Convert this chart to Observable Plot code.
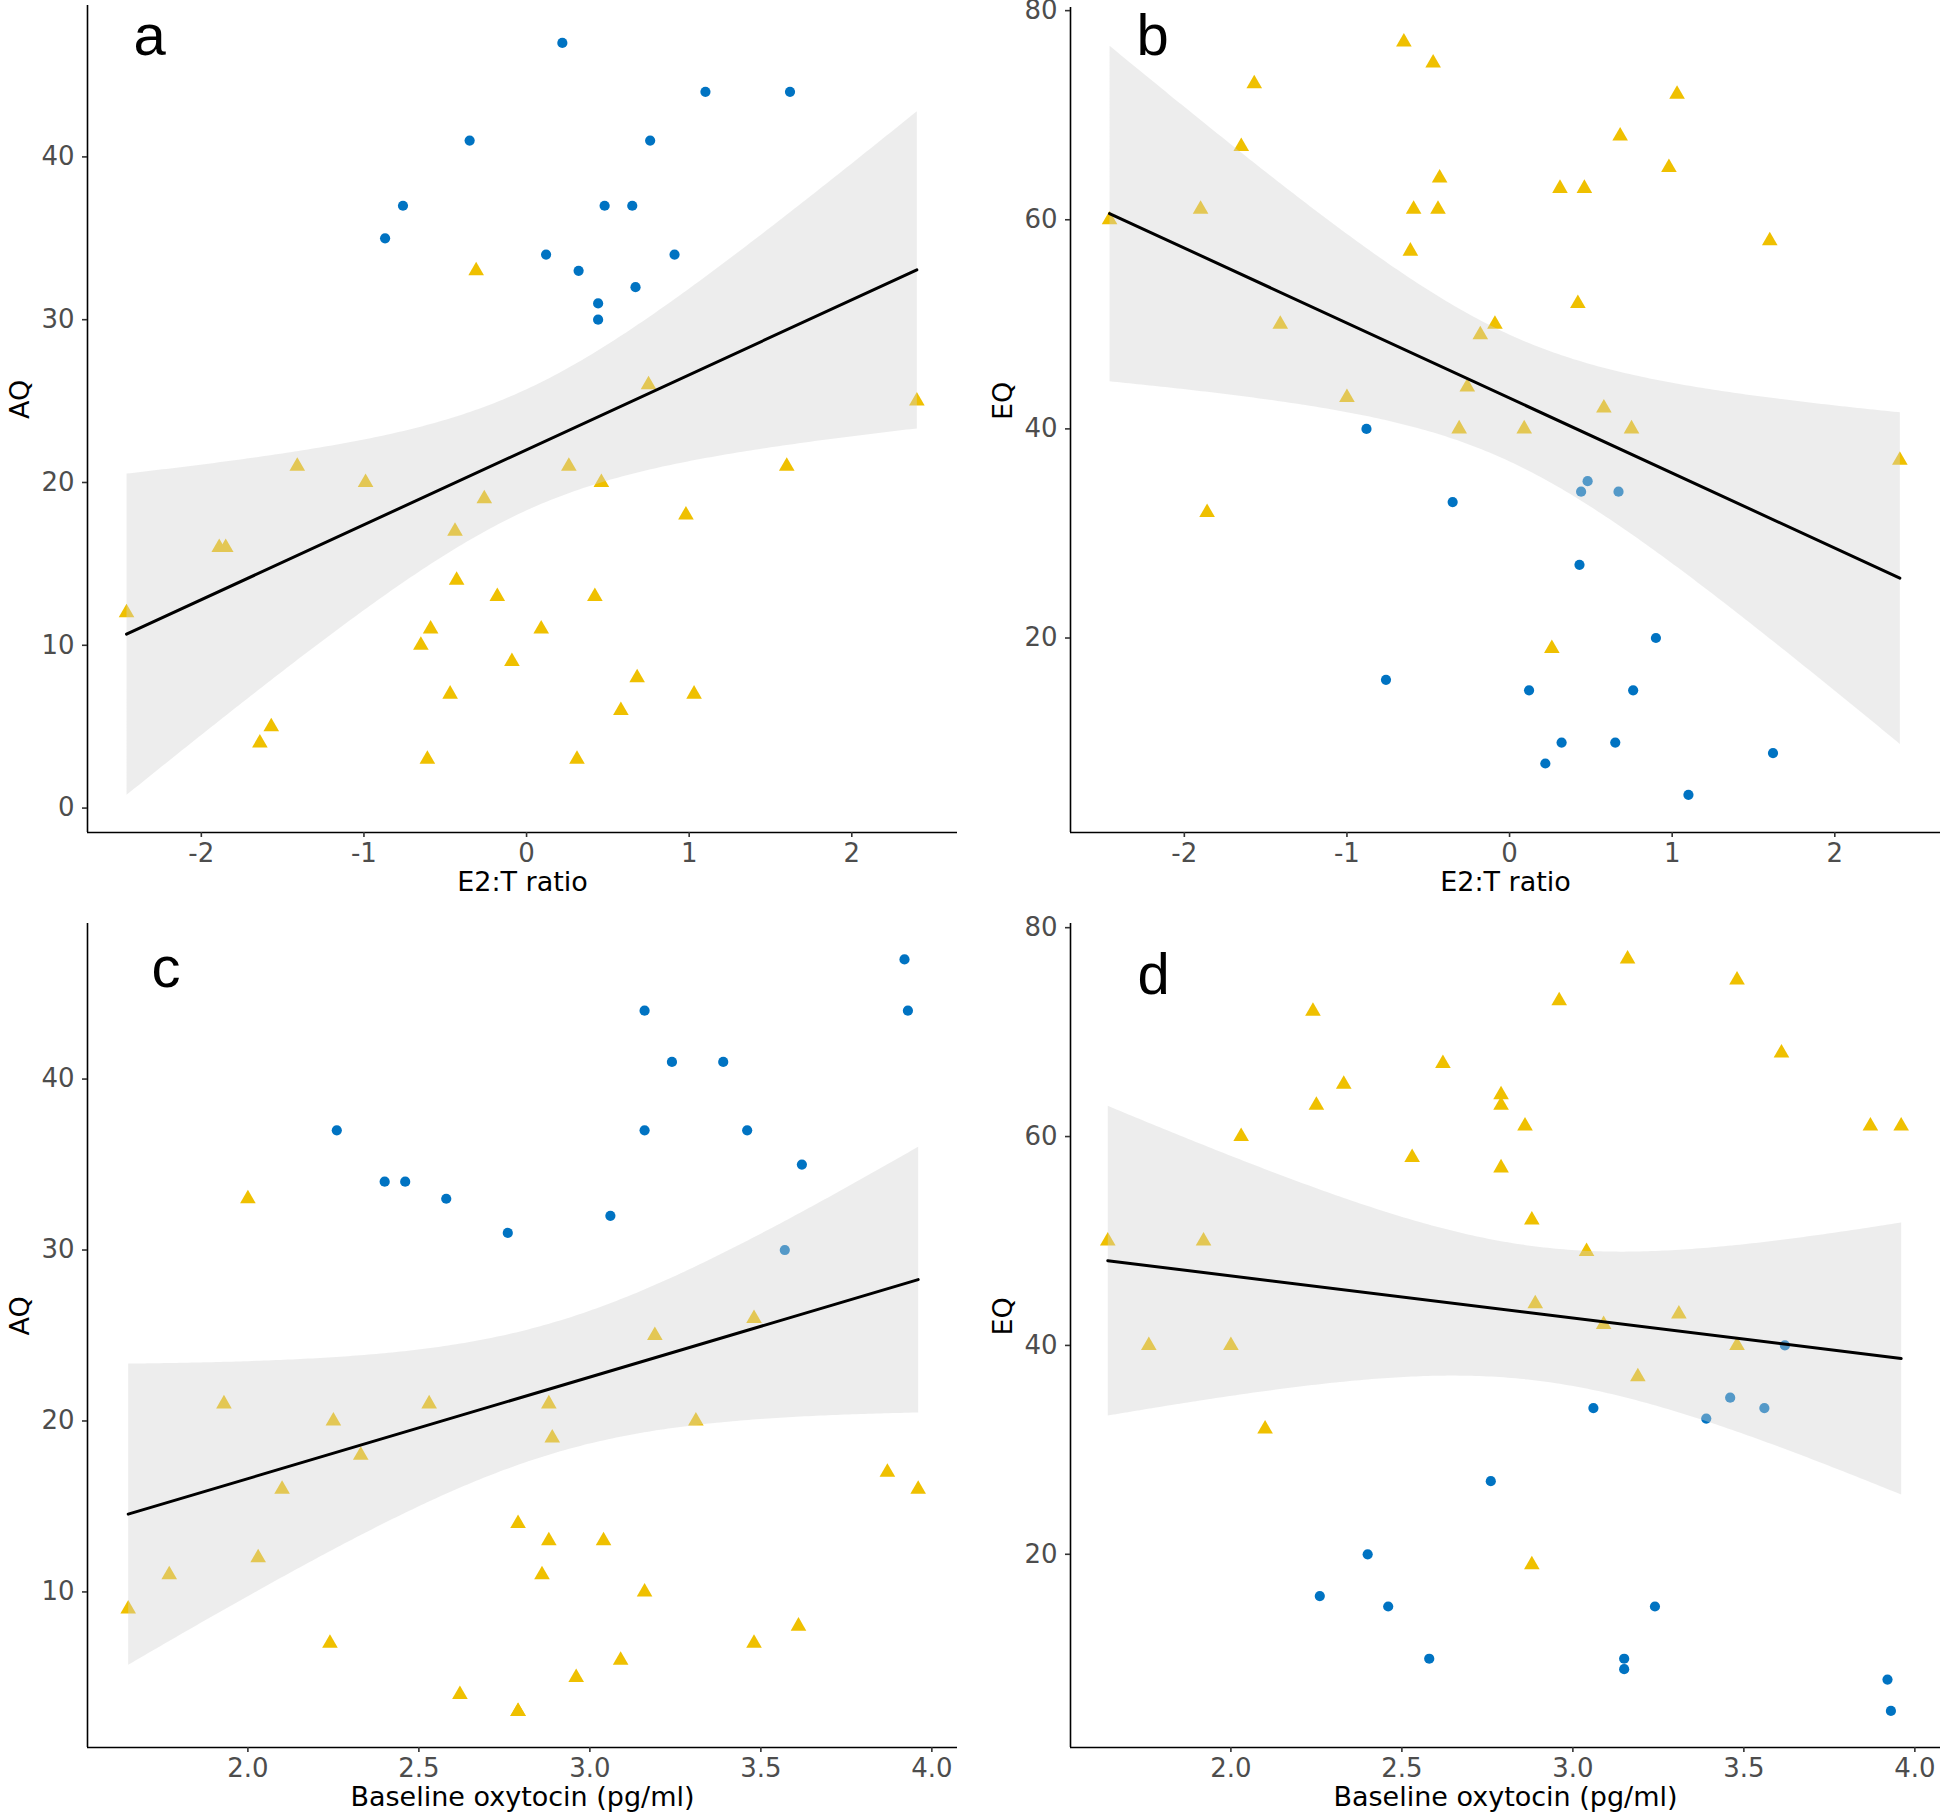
<!DOCTYPE html>
<html>
<head>
<meta charset="utf-8">
<script src="https://cdn.jsdelivr.net/npm/d3@7"></script>
<script src="https://cdn.jsdelivr.net/npm/@observablehq/plot@0.6"></script>
<style>
  html, body { margin: 0; padding: 0; background: #ffffff; }
  #fig { position: relative; width: 1946px; height: 1818px; background: #ffffff; }
  .panel { position: absolute; }
  .panel svg { overflow: visible; }
</style>
</head>
<body>
<div id="fig"></div>
<script>
// ---------------- DATA ----------------
// Panel a: E2:T ratio vs AQ
const aBlueX = [0.22, 1.10, 1.62, -0.35, 0.76, -0.76, 0.48, 0.65, -0.87, 0.12, 0.91, 0.32, 0.67, 0.44, 0.44];
const aBlueY = [47, 44, 44, 41, 41, 37, 37, 37, 35, 34, 34, 33, 32, 31, 30];
const aYellowX = [-0.31, 0.75, 2.40, -1.41, -0.99, 0.26, 0.46, 1.60, -0.26, 0.98, -0.44, -1.89, -1.85, -0.43, -0.18, 0.42, -2.46, -0.59, 0.09, -0.65, -0.09, 0.68, -0.47, 1.03, 0.58, -1.57, -1.64, -0.61, 0.31];
const aYellowY = [33, 26, 25, 21, 20, 21, 20, 21, 19, 18, 17, 16, 16, 14, 13, 13, 12, 11, 11, 10, 9, 8, 7, 7, 6, 5, 4, 3, 3];

// Panel b: E2:T ratio vs EQ
const bBlueX = [-0.88, 0.48, 0.44, 0.67, -0.35, 0.43, 0.90, -0.76, 0.12, 0.76, 0.32, 0.65, 1.62, 0.22, 1.10];
const bBlueY = [40, 35, 34, 34, 33, 27, 20, 16, 15, 15, 10, 10, 9, 8, 5];
const bYellowX = [-0.65, -0.47, -1.57, 1.03, -1.65, 0.68, 0.98, -0.43, 0.31, 0.46, -1.90, -0.59, -0.44, -2.46, 1.60, -0.61, 0.42, -1.41, -0.09, -0.18, -0.26, -1.00, 0.58, -0.31, 0.09, 0.75, 2.40, -1.86, 0.26];
const bYellowY = [77, 75, 73, 72, 67, 68, 65, 64, 63, 63, 61, 61, 61, 60, 58, 57, 52, 50, 50, 49, 44, 43, 42, 40, 40, 40, 37, 32, 19];

// Panel c: Baseline oxytocin vs AQ
const cBlueX = [3.92, 3.16, 3.93, 3.24, 3.39, 2.26, 3.16, 3.46, 3.62, 2.40, 2.46, 2.58, 3.06, 2.76, 3.57];
const cBlueY = [47, 44, 44, 41, 41, 37, 37, 37, 35, 34, 34, 33, 32, 31, 30];
const cYellowX = [2.00, 3.19, 3.48, 1.93, 2.53, 2.88, 2.25, 3.31, 2.89, 2.33, 3.87, 2.10, 3.96, 2.79, 2.88, 3.04, 2.03, 1.77, 2.86, 3.16, 1.65, 3.61, 2.24, 3.48, 3.09, 2.96, 2.62, 2.79, 2.79];
const cYellowY = [33, 25, 26, 21, 21, 21, 20, 20, 19, 18, 17, 16, 16, 14, 13, 13, 12, 11, 11, 10, 9, 8, 7, 7, 6, 5, 4, 3, 3];

// Panel d: Baseline oxytocin vs EQ
const dBlueX = [3.62, 3.46, 3.06, 3.56, 3.39, 2.76, 2.40, 2.26, 2.46, 3.24, 2.58, 3.15, 3.15, 3.92, 3.93];
const dBlueY = [40, 35, 34, 34, 33, 27, 20, 16, 15, 15, 10, 10, 9, 8, 5];
const dYellowX = [3.16, 3.48, 2.96, 2.24, 3.61, 2.62, 2.33, 2.79, 2.25, 2.79, 2.86, 3.87, 3.96, 2.03, 2.53, 2.79, 2.88, 1.64, 1.92, 3.04, 2.89, 3.31, 3.09, 1.76, 2.00, 3.48, 3.19, 2.10, 2.88];
const dYellowY = [77, 75, 73, 72, 68, 67, 65, 64, 63, 63, 61, 61, 61, 60, 58, 57, 52, 50, 50, 49, 44, 43, 42, 40, 40, 40, 37, 32, 19];

// Tick values and labels
const e2tTicks = [-2, -1, 0, 1, 2];
const oxyTicks = [2.0, 2.5, 3.0, 3.5, 4.0];
const aqTicksA = [0, 10, 20, 30, 40];
const aqTicksC = [10, 20, 30, 40];
const eqTicks = [20, 40, 60, 80];
const xLabels = ["E2:T ratio", "Baseline oxytocin (pg/ml)"];
const yLabels = ["AQ", "EQ"];
const panelLetters = ["a", "b", "c", "d"];

// ---------------- DRAWING ----------------
const BLUE = "#0073C2";
const YELLOW = "#EFC000";
const TICK_FONT = "DejaVu Sans";

function makePanel(cfg) {
  const blue = cfg.bx.map((x, i) => ({x, y: cfg.by[i]}));
  const yellow = cfg.yx.map((x, i) => ({x, y: cfg.yy[i]}));
  const all = blue.concat(yellow);
  return Plot.plot({
    width: 973,
    height: 909,
    marginLeft: cfg.ml,
    marginRight: cfg.mr,
    marginTop: cfg.mt,
    marginBottom: cfg.mb,
    style: {background: "#ffffff", fontFamily: TICK_FONT, overflow: "visible"},
    x: {domain: cfg.xDomain},
    y: {domain: cfg.yDomain},
    marks: [
      Plot.dot(blue, {x: "x", y: "y", r: 5.1, fill: BLUE}),
      Plot.dot(yellow, {x: "x", y: "y", r: 5.8, symbol: "triangle", fill: YELLOW}),
      Plot.linearRegressionY(all, {x: "x", y: "y", stroke: "black", strokeWidth: 3, fill: "lightgray", fillOpacity: 0.4, ci: 0.95}),
      Plot.ruleX([cfg.xDomain[0]], {stroke: "black", strokeWidth: 1.6}),
      Plot.ruleY([cfg.yDomain[0]], {stroke: "black", strokeWidth: 1.6}),
      Plot.axisX({ticks: cfg.xTicks, tickFormat: cfg.xFormat, tickSize: 5, tickPadding: 6, fontSize: 26, stroke: "#333333", fill: "#4D4D4D", strokeWidth: 1.6, label: null}),
      Plot.axisY({ticks: cfg.yTicks, tickSize: 5, tickPadding: 8, fontSize: 26, stroke: "#333333", fill: "#4D4D4D", strokeWidth: 1.6, label: null}),
      Plot.text([cfg.xLabel], {frameAnchor: "bottom", lineAnchor: "middle", dy: 50, fontSize: 27, fill: "black", fontFamily: TICK_FONT}),
      Plot.text([cfg.yLabel], {frameAnchor: "left", lineAnchor: "middle", rotate: -90, dx: -67, fontSize: 27, fill: "black", fontFamily: TICK_FONT}),
      Plot.text([cfg.letter], {frameAnchor: "top-left", textAnchor: "start", lineAnchor: "middle", dx: cfg.ldx, dy: cfg.ldy, fontSize: 58, fill: "black", fontFamily: "Liberation Sans"})
    ]
  });
}

const fmt1 = d3.format(".1f");
const fmtInt = d => String(d);

const panels = [
  {left: 0, top: 0, bx: aBlueX, by: aBlueY, yx: aYellowX, yy: aYellowY,
   xDomain: [-2.70, 2.65], yDomain: [-1.5, 49.3], xTicks: e2tTicks, yTicks: aqTicksA, xFormat: fmtInt,
   xLabel: xLabels[0], yLabel: yLabels[0], letter: panelLetters[0],
   ml: 87, mr: 16, mt: 5, mb: 77, ldx: 46, ldy: 31},
  {left: 973, top: 0, bx: bBlueX, by: bBlueY, yx: bYellowX, yy: bYellowY,
   xDomain: [-2.70, 2.65], yDomain: [1.4, 80.3], xTicks: e2tTicks, yTicks: eqTicks, xFormat: fmtInt,
   xLabel: xLabels[0], yLabel: yLabels[1], letter: panelLetters[1],
   ml: 97, mr: 6, mt: 7, mb: 77, ldx: 66, ldy: 29},
  {left: 0, top: 909, bx: cBlueX, by: cBlueY, yx: cYellowX, yy: cYellowY,
   xDomain: [1.531, 4.075], yDomain: [0.9, 49.1], xTicks: oxyTicks, yTicks: aqTicksC, xFormat: fmt1,
   xLabel: xLabels[1], yLabel: yLabels[0], letter: panelLetters[2],
   ml: 87, mr: 16, mt: 14, mb: 71, ldx: 64, ldy: 45},
  {left: 973, top: 909, bx: dBlueX, by: dBlueY, yx: dYellowX, yy: dYellowY,
   xDomain: [1.531, 4.075], yDomain: [1.5, 80.4], xTicks: oxyTicks, yTicks: eqTicks, xFormat: fmt1,
   xLabel: xLabels[1], yLabel: yLabels[1], letter: panelLetters[3],
   ml: 97, mr: 6, mt: 14, mb: 71, ldx: 67, ldy: 52}
];

const fig = document.getElementById("fig");
for (const p of panels) {
  const div = document.createElement("div");
  div.className = "panel";
  div.style.left = p.left + "px";
  div.style.top = p.top + "px";
  div.appendChild(makePanel(p));
  fig.appendChild(div);
}
</script>
</body>
</html>
